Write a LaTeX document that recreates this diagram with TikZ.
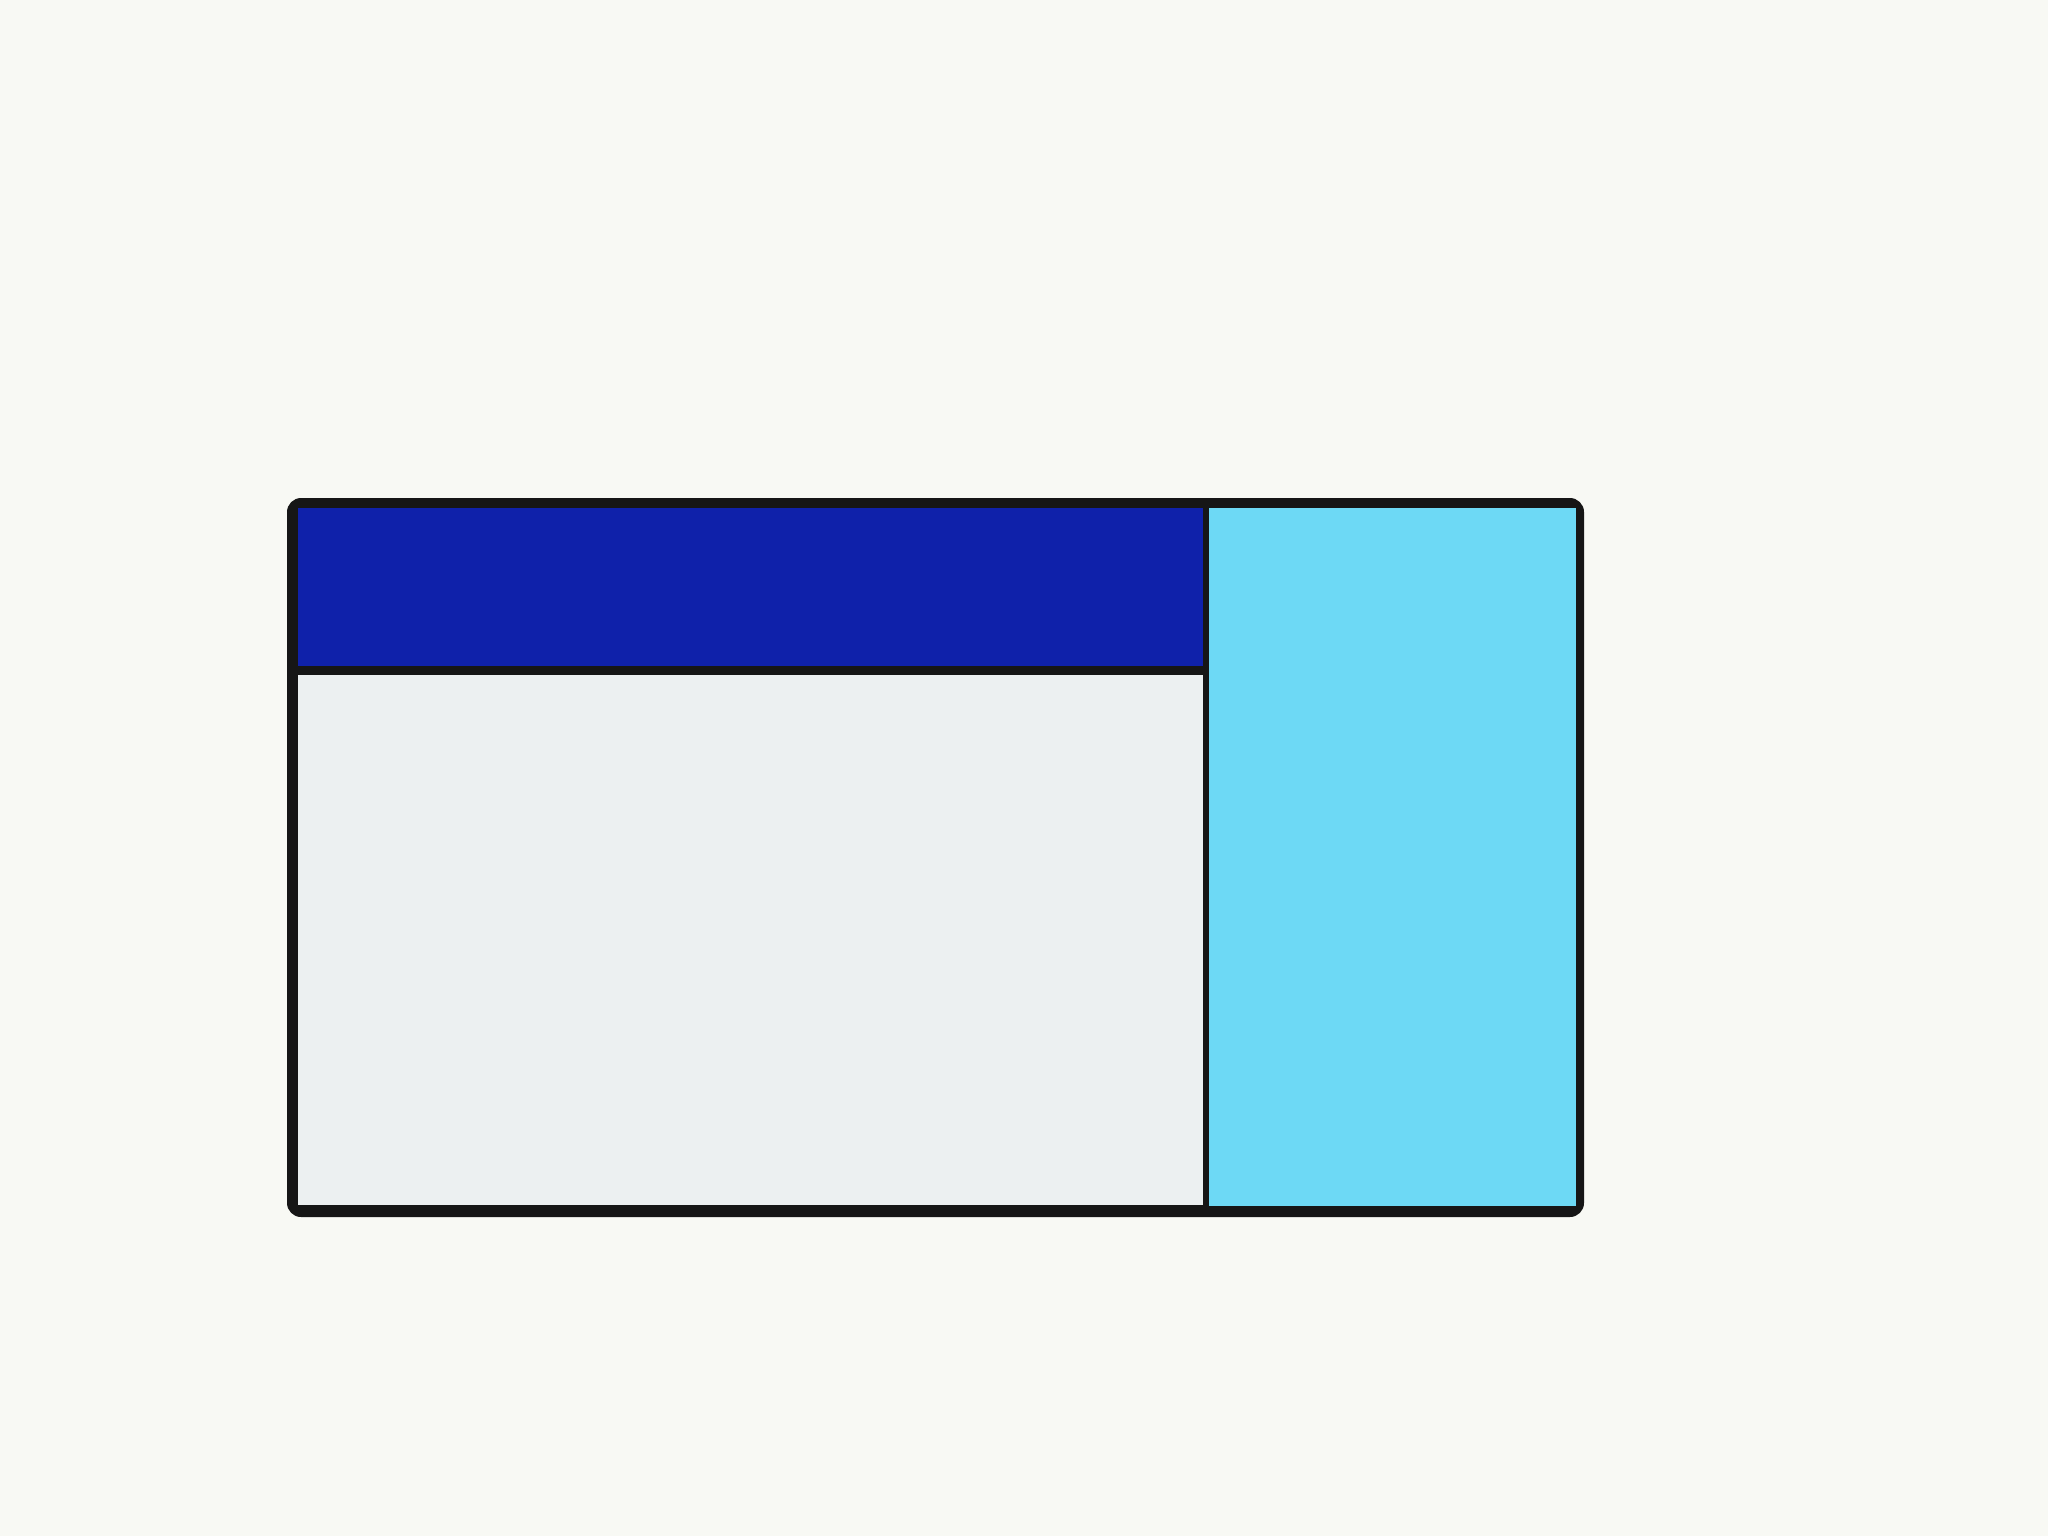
\documentclass[tikz,border=0pt]{standalone}
\usepackage{tikz}
\definecolor{bgc}{HTML}{F8F9F4}
\definecolor{framec}{HTML}{161616}
\definecolor{bluec}{HTML}{0F21AA}
\definecolor{greyc}{HTML}{ECF0F1}
\definecolor{cyanc}{HTML}{6DD9F5}
\tikzset{panel/.style={draw=none}}
\begin{document}
\begin{tikzpicture}[x=0.01cm,y=-0.01cm]
\fill[bgc] (0,0) rectangle (2048,1536);
\useasboundingbox (0,0) rectangle (2048,1536);
\fill[framec, rounded corners=4] (287,498) rectangle (1584,1217);
\fill[bluec, panel] (298,508) rectangle (1203,666);
\fill[greyc, panel] (298,675) rectangle (1203,1205);
\fill[cyanc, panel] (1209,508) rectangle (1576,1206);
\end{tikzpicture}
\end{document}
